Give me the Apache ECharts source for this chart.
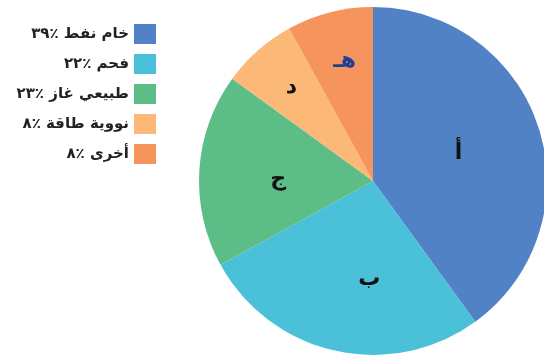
<!DOCTYPE html>
<html>
<head>
<meta charset="utf-8">
<script src="https://cdn.jsdelivr.net/npm/echarts@6/dist/echarts.min.js"></script>
<style>html,body{margin:0;padding:0;background:#fff;}#c{width:544px;height:359px;}</style>
</head>
<body>
<div id="c"></div>
<script>
// Data
var sliceLabels = ['أ', 'ب', 'ج', 'د', 'هـ'];
var sliceValues = [40, 27, 18, 7, 8];
var legendPercents = ['٣٩٪', '٢٢٪', '٢٣٪', '٨٪', '٨٪'];
var legendNames = ['نفط خام', 'فحم', 'غاز طبيعي', 'طاقة نووية', 'أخرى'];

// Styles
var colors = ['#5082c5', '#4bc1d9', '#5cbd86', '#fcb877', '#f5945c'];
var labelColors = ['#111', '#111', '#111', '#111', '#1f3f97'];
var labelOffsets = [[0, 0], [16, 10], [-5, 4], [-22, -26], [-6, -33]];

var chart = echarts.init(document.getElementById('c'), null, {renderer: 'canvas'});
var font = 'DejaVu Sans';

var data = sliceLabels.map(function (n, i) {
  return {
    name: n,
    value: sliceValues[i],
    itemStyle: {color: colors[i]},
    label: {color: labelColors[i], offset: labelOffsets[i]}
  };
});

// Each word is its own rich-text token, laid out left to right as in the reference legend
function legendText(i) {
  var parts = [legendPercents[i]].concat(legendNames[i].split(' '));
  return parts.map(function (p) { return '{t|' + p + '}'; }).join('{t| }');
}

chart.setOption({
  animation: false,
  legend: {
    orient: 'vertical',
    right: 388,
    top: 24,
    padding: 0,
    align: 'right',
    itemWidth: 22,
    itemHeight: 20,
    itemGap: 10,
    icon: 'rect',
    data: sliceLabels,
    formatter: function (name) { return legendText(sliceLabels.indexOf(name)); },
    textStyle: {
      fontFamily: font, fontSize: 15, fontWeight: 'bold', color: '#222',
      rich: {t: {fontFamily: font, fontSize: 15, fontWeight: 'bold', color: '#222'}}
    }
  },
  series: [{
    type: 'pie',
    center: [373, 181],
    radius: [0, 174],
    startAngle: 90,
    clockwise: true,
    avoidLabelOverlap: false,
    itemStyle: {borderWidth: 0},
    label: {
      show: true,
      position: 'inside',
      formatter: '{b}',
      fontFamily: font,
      fontSize: 22,
      fontWeight: 'bold'
    },
    emphasis: {disabled: true},
    data: data
  }]
});
</script>
</body>
</html>
